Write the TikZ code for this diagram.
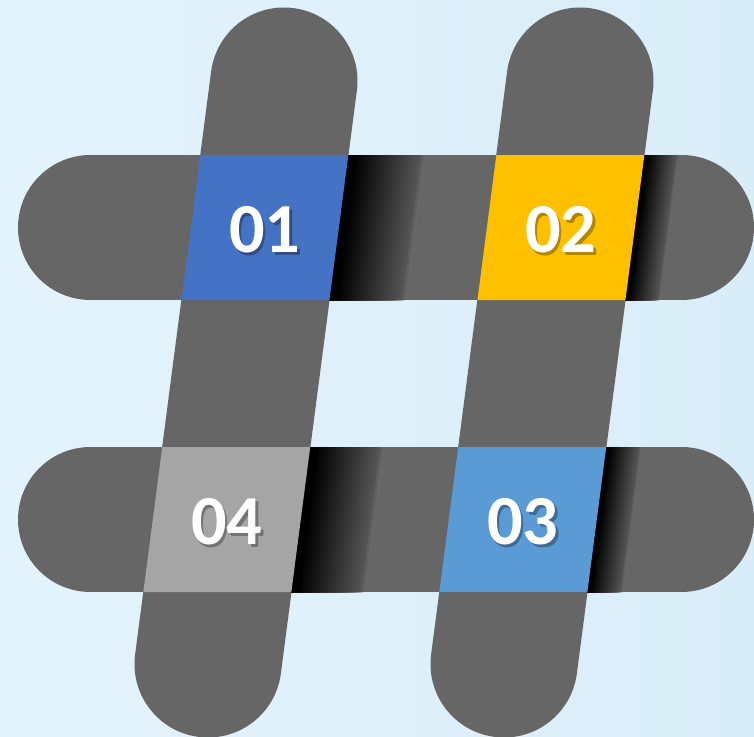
\documentclass[tikz,border=0pt]{standalone}
\usepackage{fontspec}
\setmainfont{Carlito}[BoldFont={Carlito Bold}]
\definecolor{bargray}{HTML}{666666}
\definecolor{bgA}{HTML}{E3F3FC}
\definecolor{bgB}{HTML}{D9EDF8}
\definecolor{blueA}{HTML}{4472C4}
\definecolor{yellowA}{HTML}{FFC000}
\definecolor{greyA}{HTML}{A5A5A5}
\definecolor{blueB}{HTML}{5B9BD5}
\tikzset{
    hbar/.style={draw=bargray, line width=29mm, line cap=round},
    vbar/.style={draw=bargray, line width=29.4mm, line cap=round},
    numtext/.style={font=\fontsize{40}{42}\selectfont\bfseries, text=white, inner sep=0pt},
    numshadow/.style={numtext, text=black, opacity=0.3}
}
\begin{document}
\begin{tikzpicture}[x=0.2mm, y=-0.2mm]
    \shade[left color=bgA, right color=bgB] (0,0) rectangle (754,737);
    \useasboundingbox (0,0) rectangle (754,737);
    \coordinate (rowL1) at (90.5,227.5);
    \coordinate (rowR1) at (681.5,227.5);
    \coordinate (rowL2) at (90.5,519.5);
    \coordinate (rowR2) at (681.5,519.5);
    \coordinate (colT1) at (284,81);
    \coordinate (colB1) at (208,664);
    \coordinate (colT2) at (580,81);
    \coordinate (colB2) at (504,664);
    \draw[hbar] (rowL1) -- (rowR1);
    \draw[hbar] (rowL2) -- (rowR2);
    \draw[vbar] (colT1) -- (colB1);
    \draw[vbar] (colT2) -- (colB2);
    \foreach \cx/\cy/\col/\lab/\w in {264.9/227.5/blueA/01/76, 560.9/227.5/yellowA/02/34, 226.8/519.5/greyA/04/73, 522.8/519.5/blueB/03/35} {
        \begin{scope}[shift={(\cx,\cy)}, xslant=0.1304]
            \foreach \k in {60,59,...,1} {
                \pgfmathsetmacro\p{max(0,88*(\k/60-0.1)/0.9)}
                \fill[bargray!\p!black] (74,-72.5) rectangle ({74+\k/60*\w},72.5);
            }
            \fill[white, opacity=0.05] ({74+0.96*\w},-72.5) rectangle ({74+1.01*\w},72.5);
            \fill[\col] (-74,-72.5) rectangle (74,72.5);
        \end{scope}
        \node[numshadow] (shd\lab) at (\cx+2.5,\cy+5.5) {\lab};
        \node[numtext] (num\lab) at (\cx,\cy+2) {\lab};
    }
\end{tikzpicture}
\end{document}
